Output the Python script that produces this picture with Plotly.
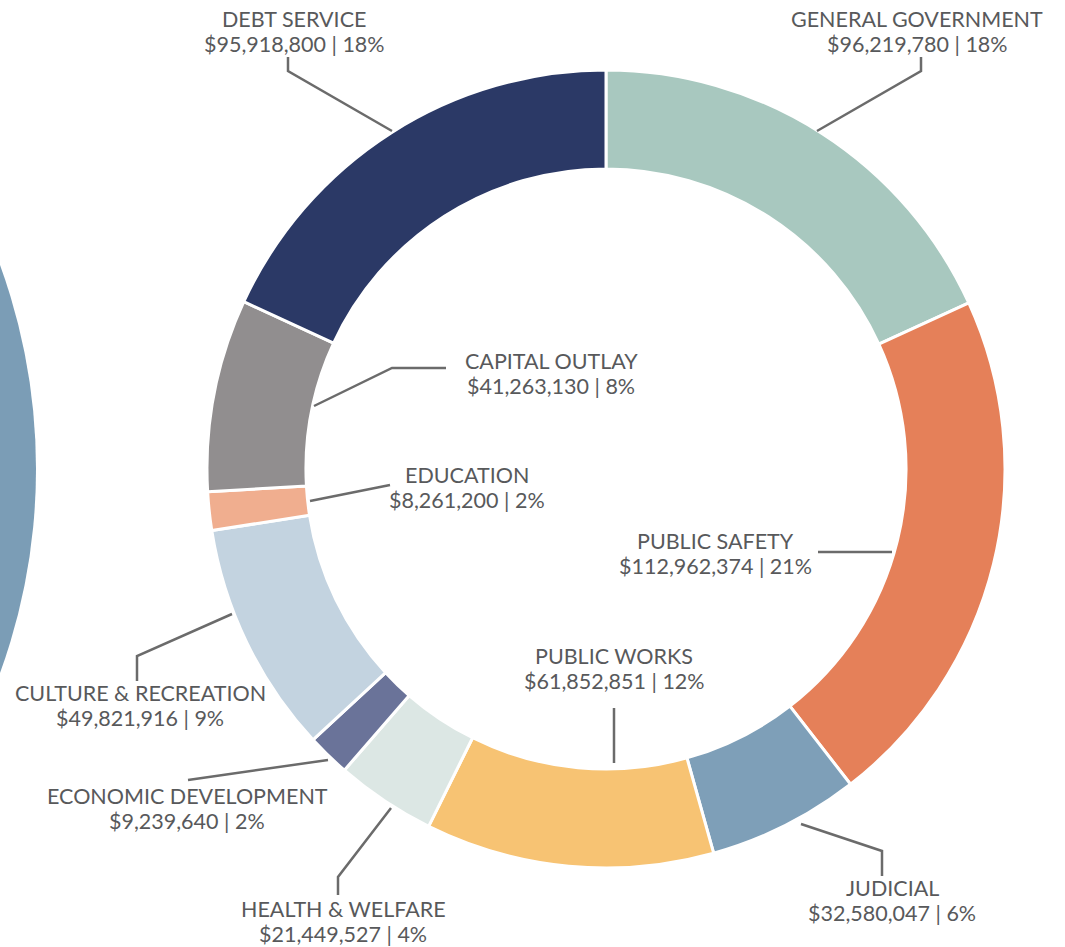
import plotly.graph_objects as go

# ---- data ----
categories = ["GENERAL GOVERNMENT", "PUBLIC SAFETY", "JUDICIAL", "PUBLIC WORKS",
              "HEALTH & WELFARE", "ECONOMIC DEVELOPMENT", "CULTURE & RECREATION",
              "EDUCATION", "CAPITAL OUTLAY", "DEBT SERVICE"]
amounts = [96219780, 112962374, 32580047, 61852851, 21449527, 9239640,
           49821916, 8261200, 41263130, 95918800]
colors = ["#A8C8BF", "#E58059", "#7E9FB8", "#F7C373", "#DCE7E4", "#6A7399",
          "#C3D3E0", "#F0AE8F", "#918E8F", "#2B3966"]

# ---- layout (pixel positions of labels and leader lines) ----
W, H = 1065, 947
CX, CY, R = 606, 469, 399
LINE_GAP = 25
label_pos = {
    "DEBT SERVICE": (294, 31),
    "GENERAL GOVERNMENT": (917, 31),
    "CAPITAL OUTLAY": (551, 373),
    "EDUCATION": (467, 487),
    "PUBLIC SAFETY": (715, 553),
    "PUBLIC WORKS": (614, 668),
    "CULTURE & RECREATION": (140, 705),
    "ECONOMIC DEVELOPMENT": (187, 808),
    "HEALTH & WELFARE": (343, 921),
    "JUDICIAL": (892, 900),
}
leaders = {
    "DEBT SERVICE": [(288, 57), (288, 71), (392, 131)],
    "GENERAL GOVERNMENT": [(921, 57), (921, 71), (817, 131)],
    "CAPITAL OUTLAY": [(446, 368), (392, 368), (314, 406)],
    "EDUCATION": [(390, 485), (310, 501)],
    "PUBLIC SAFETY": [(818, 552), (892, 552)],
    "PUBLIC WORKS": [(614, 708), (614, 763)],
    "CULTURE & RECREATION": [(137, 681), (137, 656), (232, 614)],
    "ECONOMIC DEVELOPMENT": [(188, 780), (328, 760)],
    "HEALTH & WELFARE": [(338, 895), (338, 877), (391, 808)],
    "JUDICIAL": [(882, 876), (882, 851), (801, 824)],
}

def px(x):
    return x / W

def py(y):
    return 1 - y / H

total = sum(amounts)

fig = go.Figure()
fig.add_trace(go.Pie(
    labels=categories, values=amounts, sort=False, direction="clockwise",
    rotation=0, hole=0.752, textinfo="none", hoverinfo="label+value+percent",
    marker=dict(colors=colors, line=dict(color="white", width=3)),
    domain=dict(x=[px(CX - R), px(CX + R)], y=[py(CY + R), py(CY - R)]),
    showlegend=False,
))

shapes = []
# partial neighbouring circle at left edge
shapes.append(dict(type="circle", xref="paper", yref="paper",
                   x0=px(-560 - 596), x1=px(-560 + 596),
                   y0=py(469 + 596), y1=py(469 - 596),
                   fillcolor="#7B9DB6", line=dict(width=0), layer="below"))
for name, pts in leaders.items():
    path = "M " + " L ".join(f"{px(x)},{py(y)}" for x, y in pts)
    shapes.append(dict(type="path", xref="paper", yref="paper", path=path,
                       line=dict(color="#6B6B6B", width=2.5)))

annotations = []
font = dict(family="Lato", size=21.5, color="#58595B")
for name, val in zip(categories, amounts):
    pct = round(val / total * 100)
    x, y = label_pos[name]
    for text, yy in ((name, y - LINE_GAP / 2), (f"${val:,.0f} | {pct}%", y + LINE_GAP / 2)):
        annotations.append(dict(
            x=px(x), y=py(yy), xref="paper", yref="paper", xanchor="center",
            yanchor="middle", showarrow=False, align="center",
            text=text, font=font,
        ))

fig.update_layout(
    width=W, height=H, margin=dict(l=0, r=0, t=0, b=0),
    paper_bgcolor="white", plot_bgcolor="white",
    shapes=shapes, annotations=annotations, showlegend=False,
)
fig.write_html("out.html", config={"displayModeBar": False},
               post_script="document.body.style.margin='0';")
